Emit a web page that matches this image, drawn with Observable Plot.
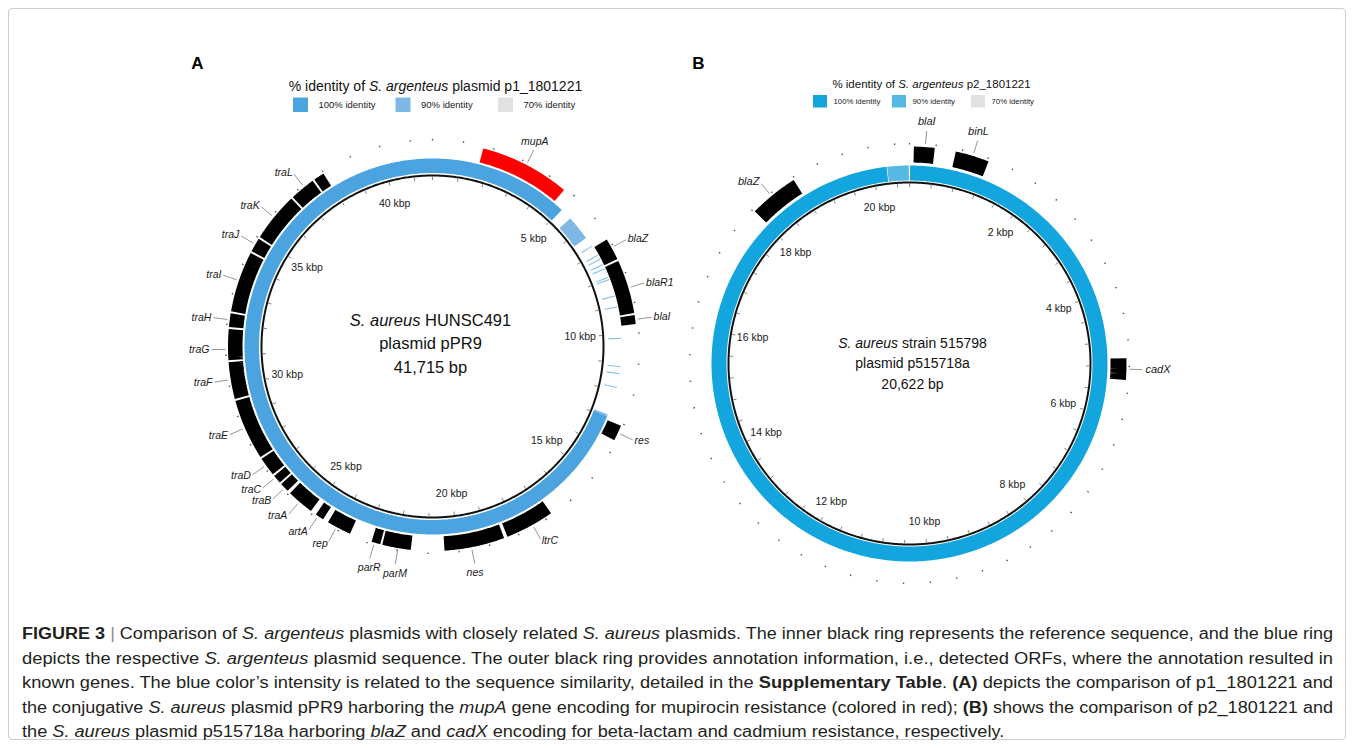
<!DOCTYPE html>
<html>
<head>
<meta charset="utf-8">
<script src="https://cdn.jsdelivr.net/npm/d3@7"></script>
<script src="https://cdn.jsdelivr.net/npm/@observablehq/plot@0.6"></script>
<style>
html,body{margin:0;padding:0;background:#fff;}
#fig{position:relative;width:1354px;height:748px;overflow:hidden;background:#fff;}
#chart{position:absolute;left:0;top:0;}
#frame{position:absolute;left:8px;top:8px;width:1338px;height:732px;border:1px solid #cfcfcf;border-radius:4px;box-sizing:border-box;pointer-events:none;}
#cap{position:absolute;left:22px;top:622px;font-family:"Liberation Sans",Arial,sans-serif;font-size:16px;color:#231f20;}
.ln{white-space:nowrap;height:24.5px;line-height:24.5px;transform-origin:0 50%;width:max-content;}
.bar{color:#8a8a8a;}
</style>
</head>
<body>
<div id="fig">
  <div id="chart"></div>
  <div id="frame"></div>
  <div id="cap">
    <div class="ln"><b>FIGURE 3</b> <span class="bar">|</span> Comparison of <i>S. argenteus</i> plasmids with closely related <i>S. aureus</i> plasmids. The inner black ring represents the reference sequence, and the blue ring</div>
    <div class="ln">depicts the respective <i>S. argenteus</i> plasmid sequence. The outer black ring provides annotation information, i.e., detected ORFs, where the annotation resulted in</div>
    <div class="ln">known genes. The blue color’s intensity is related to the sequence similarity, detailed in the <b>Supplementary Table</b>. <b>(A)</b> depicts the comparison of p1_1801221 and</div>
    <div class="ln">the conjugative <i>S. aureus</i> plasmid pPR9 harboring the <i>mupA</i> gene encoding for mupirocin resistance (colored in red); <b>(B)</b> shows the comparison of p2_1801221 and</div>
    <div class="ln">the <i>S. aureus</i> plasmid p515718a harboring <i>blaZ</i> and <i>cadX</i> encoding for beta-lactam and cadmium resistance, respectively.</div>
  </div>
</div>
<script>
// ---------------- DATA ----------------
const lenA = 41.715;   // kbp, S. aureus pPR9
const lenB = 20.622;   // kbp, S. aureus p515718a

const genesA = [
  {name:"mupA",  start:1.63,  end:4.67},
  {name:"blaZ",  start:6.74,  end:7.53},
  {name:"blaR1", start:7.53,  end:9.37},
  {name:"blaI",  start:9.37,  end:9.73},
  {name:"res",   start:13.04, end:13.62},
  {name:"ltrC",  start:16.72, end:18.40},
  {name:"nes",   start:18.45, end:20.50},
  {name:"parM",  start:21.53, end:22.54},
  {name:"parR",  start:22.54, end:22.90},
  {name:"rep",   start:23.58, end:24.45},
  {name:"artA",  start:24.57, end:24.92},
  {name:"traA",  start:25.05, end:26.01},
  {name:"traB",  start:26.05, end:26.42},
  {name:"traC",  start:26.42, end:26.77},
  {name:"traD",  start:26.77, end:27.46},
  {name:"traE",  start:27.46, end:29.53},
  {name:"traF",  start:29.53, end:30.81},
  {name:"traG",  start:30.81, end:31.89},
  {name:"traH",  start:31.89, end:32.40},
  {name:"traI",  start:32.40, end:34.47},
  {name:"traJ",  start:34.47, end:35.00},
  {name:"traK",  start:35.00, end:36.69},
  {name:"traL",  start:36.69, end:37.59},
  {name:"",      start:37.59, end:38.01}
];
// BLAST hits of p1_1801221 against pPR9 (identity %)
const identA = [
  {start:12.885, end:12.95, identity:90},
  {start:12.95,  end:5.03,  identity:100},
  {start:5.45,   end:6.35,  identity:90}
];
const hitsA = [6.70, 7.08, 7.24, 7.45, 7.61, 7.94, 8.02, 8.63, 9.02, 10.14, 11.14, 11.39, 11.88];
const tickLabelsA = [5, 10, 15, 20, 25, 30, 35, 40];

const genesB = [
  {name:"blaI", start:0.05,  end:0.40},
  {name:"binL", start:0.69,  end:1.24},
  {name:"cadX", start:5.06,  end:5.42},
  {name:"blaZ", start:18.00, end:18.79}
];
const identB = [
  {start:0.01,  end:20.24, identity:100},
  {start:20.25, end:20.61, identity:90}
];
const hitsB = [];
const tickLabelsB = [2, 4, 6, 8, 10, 12, 14, 16, 18, 20];

const legendLevels = [100, 90, 70];
const centerTextA = ["S. aureus HUNSC491", "plasmid pPR9", "41,715 bp"];
const centerTextB = ["S. aureus strain 515798", "plasmid p515718a", "20,622 bp"];
const legendTitleA = "% identity of S. argenteus plasmid p1_1801221";
const legendTitleB = "% identity of S. argenteus p2_1801221";

// ---------------- LAYOUT ----------------
const W = 1354, H = 748;
const LA = {
  c:[432,346], len:lenA, rIn:171, blue:[173.5,188], ann:[190,204.5],
  tickStep:1, tickLabR:148, outerTick:[206,207.6], lead:[207,221], labR:223, labFs:10.5, tickFs:10.5,
  colors:{100:"#4ba3df", 90:"#7fb8e5", 70:"#e1e1e1"}, hit:"#86bfe8",
  labels:{mupA:[27.3,"top"], blaZ:[61.1,"start"], blaR1:[73.3,"start"], blaI:[82.4,"start"], res:[115,"start"],
    ltrC:[150.7,"start"], nes:[169,"bottom"], parM:[189.7,"bottom"], parR:[196.5,"bottom"], rep:[208,"end"],
    artA:[214,"end"], traA:[220.6,"end"], traB:[226.3,"end"], traC:[230.2,"end"], traD:[234.5,"end"],
    traE:[246.5,"end"], traF:[260.7,"end"], traG:[269.2,"end"], traH:[277.5,"end"], traI:[288.8,"end"],
    traJ:[300,"end"], traK:[309.2,"end"], traL:[321.2,"end"]}
};
const LB = {
  c:[909,363], len:lenB, rIn:181, blue:[183,198], ann:[201,217],
  tickStep:0.4, tickLabR:159, outerTick:[219,220.6], lead:[220,233], labR:236, labFs:11, tickFs:10.5,
  colors:{100:"#13a5dd", 90:"#56b9e3", 70:"#e1e1e1"}, hit:"#7fc6ea",
  labels:{blaI:[4.2,"top"], binL:[17,"top"], blaZ:[320.5,"end"], cadX:[91.5,"start"]}
};

function pt(c, r, deg){ const a = deg*Math.PI/180; return [c[0] + r*Math.sin(a), c[1] - r*Math.cos(a)]; }
function kdeg(L, k){ return k / L.len * 360; }
function arcPts(L, r, s, e, id, color){
  if (e < s) e += L.len;
  const d0 = kdeg(L, s), d1 = kdeg(L, e);
  const n = Math.max(2, Math.ceil((d1 - d0) / 0.5));
  return d3.range(n + 1).map(i => { const p = pt(L.c, r, d0 + (d1 - d0) * i / n); return {x:p[0], y:p[1], id, color}; });
}
function radial(L, list, r0, r1, degOf){
  return list.map(v => { const d = degOf(v); const a = pt(L.c, r0, d), b = pt(L.c, r1, d); return {x1:a[0], y1:a[1], x2:b[0], y2:b[1]}; });
}

function panelMarks(L, genes, ident, hits, tickLabels, centerText, cx, cy0, cdy, cfs){
  const m = [];
  const blueR = (L.blue[0] + L.blue[1]) / 2, blueW = L.blue[1] - L.blue[0];
  const annR = (L.ann[0] + L.ann[1]) / 2, annW = L.ann[1] - L.ann[0];
  const ring = ident.flatMap((s, i) => arcPts(L, blueR, s.start, s.end, "b" + i, L.colors[s.identity]));
  m.push(Plot.line(ring, {x:"x", y:"y", z:"id", stroke:d => d.color, strokeWidth:blueW, strokeLinecap:"butt", strokeLinejoin:"round"}));
  if (hits.length) {
    m.push(Plot.link(radial(L, hits, L.blue[0] + 2.5, L.blue[1] + 1, k => kdeg(L, k)),
      {x1:"x1", y1:"y1", x2:"x2", y2:"y2", stroke:L.hit, strokeWidth:1.1}));
  }
  m.push(Plot.line(arcPts(L, L.rIn, 0, L.len, "ref", "#000"), {x:"x", y:"y", stroke:"#111", strokeWidth:2}));
  const nT = Math.floor(L.len / L.tickStep + 1e-6);
  const ticks = d3.range(0, nT + 1).map(i => +(i * L.tickStep).toFixed(3)).filter(k => k < L.len);
  m.push(Plot.link(radial(L, ticks, L.rIn - 1, L.rIn - 4.5, k => kdeg(L, k)),
    {x1:"x1", y1:"y1", x2:"x2", y2:"y2", stroke:"#777", strokeWidth:0.9}));
  m.push(Plot.link(radial(L, ticks, L.outerTick[0], L.outerTick[1], k => kdeg(L, k)),
    {x1:"x1", y1:"y1", x2:"x2", y2:"y2", stroke:"#555", strokeWidth:1.3}));
  const gap = 0.28 / 360 * L.len;
  const gpts = genes.flatMap((g, i) => arcPts(L, annR, g.start + gap, g.end - gap, "g" + i, g.name === "mupA" ? "#ff0000" : "#000"));
  m.push(Plot.line(gpts, {x:"x", y:"y", z:"id", stroke:d => d.color, strokeWidth:annW, strokeLinecap:"butt", strokeLinejoin:"miter"}));
  m.push(Plot.text(tickLabels, {
    x:k => pt(L.c, L.tickLabR, kdeg(L, k))[0], y:k => pt(L.c, L.tickLabR, kdeg(L, k))[1],
    text:k => k + " kbp", fontSize:L.tickFs, fill:"#1a1a1a"}));
  const lab = genes.filter(g => g.name && L.labels[g.name]);
  m.push(Plot.link(radial(L, lab, L.lead[0], L.lead[1], g => L.labels[g.name][0]),
    {x1:"x1", y1:"y1", x2:"x2", y2:"y2", stroke:"#8a8a8a", strokeWidth:0.9}));
  for (const anchor of ["start", "end", "top", "bottom"]) {
    const sub = lab.filter(g => L.labels[g.name][1] === anchor);
    const dy = anchor === "top" ? -6.5 : anchor === "bottom" ? 7 : 0;
    m.push(Plot.text(sub, {
      x:g => pt(L.c, L.labR, L.labels[g.name][0])[0],
      y:g => pt(L.c, L.labR, L.labels[g.name][0])[1] + dy,
      text:"name", fontStyle:"italic", fontSize:L.labFs, fill:"#1a1a1a",
      textAnchor:(anchor === "start" || anchor === "end") ? anchor : "middle"}));
  }
  m.push(Plot.text(centerText, {x:() => cx, y:(d, i) => cy0 + i * cdy, text:d => d, fontSize:cfs, fill:"#111"}));
  return m;
}

function legendMarks(L, title, tx, ty, tfs, sx0, sdx, sw, sy, sh, lfs, lx){
  return [
    Plot.text([title], {x:() => tx, y:() => ty, text:d => d, fontSize:tfs, fill:"#111"}),
    Plot.rect(legendLevels, {x1:(d, i) => sx0 + i * sdx, x2:(d, i) => sx0 + i * sdx + sw, y1:() => sy, y2:() => sy + sh, fill:d => L.colors[d]}),
    Plot.text(legendLevels, {x:(d, i) => sx0 + i * sdx + lx, y:() => sy + sh / 2, text:d => d + "% identity", fontSize:lfs, textAnchor:"start", fill:"#222"})
  ];
}

const marks = [
  ...panelMarks(LA, genesA, identA, hitsA, tickLabelsA, centerTextA, 430, 320, 23.5, 16.5),
  ...panelMarks(LB, genesB, identB, hitsB, tickLabelsB, centerTextB, 912, 343, 20.5, 14),
  ...legendMarks(LA, legendTitleA, 435, 86, 14, 293, 102.5, 15, 97.5, 14.5, 9.5, 25),
  ...legendMarks(LB, legendTitleB, 931, 84, 11.5, 813, 79, 14, 95, 12.5, 7.8, 20),
  Plot.text(["A", "B"], {x:(d, i) => [197, 698][i], y:() => 63, text:d => d, fontSize:17, fontWeight:"bold", fill:"#000"})
];

const svg = Plot.plot({
  width:W, height:H, margin:0,
  x:{domain:[0, W], range:[0, W], axis:null},
  y:{domain:[0, H], range:[0, H], axis:null},
  color:{type:"identity"},
  style:{fontFamily:'"Liberation Sans", Arial, sans-serif', background:"transparent", overflow:"visible"},
  marks
});

const ITAL = ["S. aureus", "S. argenteus"];
d3.select(svg).selectAll("text").each(function(){
  const el = this;
  if (el.querySelector("tspan")) return;
  const t = el.textContent; const w = ITAL.find(s => t.includes(s));
  if (!w) return;
  const i = t.indexOf(w);
  el.textContent = "";
  for (const [s, it] of [[t.slice(0, i), false], [w, true], [t.slice(i + w.length), false]]) {
    if (!s) continue;
    const ts = document.createElementNS("http://www.w3.org/2000/svg", "tspan");
    ts.textContent = s.replace(/ /g, "\u00a0");
    if (it) ts.setAttribute("font-style", "italic");
    el.appendChild(ts);
  }
});
document.getElementById("chart").appendChild(svg);

const lines = [...document.querySelectorAll("#cap .ln")];
const targets = [1311, 1311, 1311, 1311];
const fs = [];
lines.forEach((l, i) => {
  if (i < targets.length) { const w = l.getBoundingClientRect().width; const f = targets[i] / w; fs.push(f); l.style.transform = `scaleX(${f})`; }
});
const mean = fs.reduce((a, b) => a + b, 0) / fs.length;
lines[4].style.transform = `scaleX(${mean})`;
</script>
</body>
</html>
